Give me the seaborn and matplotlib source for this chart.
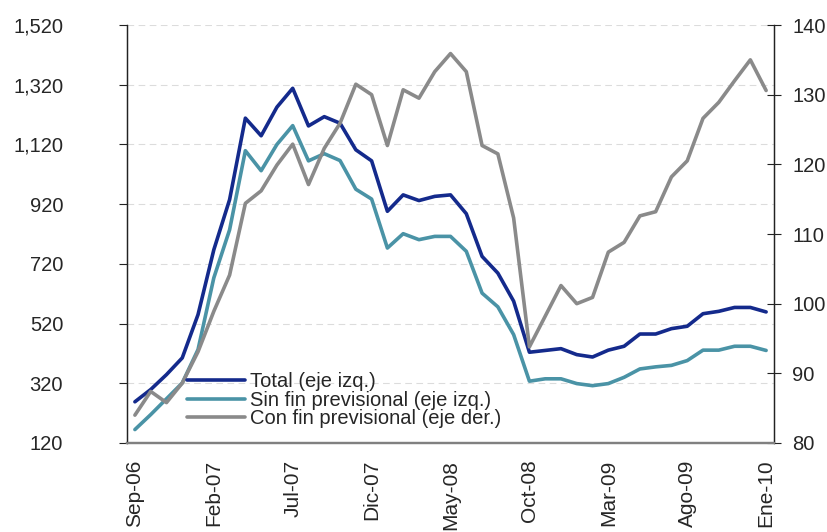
import matplotlib
matplotlib.use("Agg")
import matplotlib.pyplot as plt
import seaborn as sns
import numpy as np
import pandas as pd

# monthly, Sep-06 .. Ene-10
months = ["Sep-06", "Oct-06", "Nov-06", "Dic-06", "Ene-07", "Feb-07", "Mar-07", "Abr-07",
          "May-07", "Jun-07", "Jul-07", "Ago-07", "Sep-07", "Oct-07", "Nov-07", "Dic-07",
          "Ene-08", "Feb-08", "Mar-08", "Abr-08", "May-08", "Jun-08", "Jul-08", "Ago-08",
          "Sep-08", "Oct-08", "Nov-08", "Dic-08", "Ene-09", "Feb-09", "Mar-09", "Abr-09",
          "May-09", "Jun-09", "Jul-09", "Ago-09", "Sep-09", "Oct-09", "Nov-09", "Dic-09",
          "Ene-10"]

total = [258, 299, 349, 405, 550, 767, 935, 1208, 1149, 1245, 1308, 1182, 1213, 1191,
         1102, 1065, 896, 951, 932, 946, 951, 888, 745, 689, 595, 424, 430, 436, 416,
         408, 431, 444, 485, 485, 503, 511, 553, 561, 574, 574, 559]

sin_fin = [165, 215, 268, 321, 433, 673, 834, 1099, 1032, 1120, 1183, 1065, 1089, 1066,
           970, 937, 773, 821, 801, 812, 812, 762, 622, 576, 483, 327, 335, 335, 319,
           312, 319, 340, 368, 375, 380, 396, 431, 431, 444, 444, 430]

con_fin = [84.0, 87.4, 85.8, 88.6, 93.1, 98.9, 104.1, 114.4, 116.2, 119.9, 122.9, 117.1,
           122.3, 125.9, 131.5, 130.0, 122.7, 130.7, 129.5, 133.3, 135.9, 133.3, 122.7,
           121.5, 112.3, 93.8, 98.2, 102.6, 100.0, 100.9, 107.4, 108.8, 112.6, 113.2,
           118.2, 120.5, 126.6, 128.9, 132.0, 135.0, 130.6]

left_ticks = [120, 320, 520, 720, 920, 1120, 1320, 1520]
right_ticks = [80, 90, 100, 110, 120, 130, 140]

df = pd.DataFrame({"i": np.arange(len(months)), "total": total,
                   "sin_fin": sin_fin, "con_fin": con_fin})

sns.set_style("white")
plt.rcParams['font.family'] = ['Liberation Sans', 'DejaVu Sans']

fig = plt.figure(figsize=(8.28, 5.32), dpi=100)
ax = fig.add_axes([0.1534, 0.1673, 0.7814, 0.7857])
ax2 = ax.twinx()

c_total = "#142a8c"
c_sin = "#4a93a6"
c_con = "#8a8a8a"

sns.lineplot(data=df, x="i", y="total", ax=ax, color=c_total, lw=2.6,
             label="Total (eje izq.)", legend=False)
sns.lineplot(data=df, x="i", y="sin_fin", ax=ax, color=c_sin, lw=2.6,
             label="Sin fin previsional (eje izq.)", legend=False)
sns.lineplot(data=df, x="i", y="con_fin", ax=ax2, color=c_con, lw=2.6,
             label="Con fin previsional (eje der.)", legend=False)

fs = 14.5
ax.set_ylim(120, 1520)
ax.set_yticks(left_ticks)
ax.set_yticklabels([f"{v:,}" for v in left_ticks], fontsize=fs)
ax2.set_ylim(80, 140)
ax2.set_yticks(right_ticks)
ax2.set_yticklabels([str(v) for v in right_ticks], fontsize=fs)

ax.set_xlim(-0.5, len(months) - 0.5)
lab_idx = list(range(0, len(months), 5))
ax.set_xticks(lab_idx)
ax.set_xticklabels([months[k] for k in lab_idx], rotation=90, fontsize=15)
ax.set_xticks(np.arange(-0.5, len(months), 1.0), minor=True)
ax.tick_params(axis="x", which="major", length=0, pad=12)
ax.tick_params(axis="x", which="minor", length=4, width=0.8, direction="out", color="#222222")
ax.tick_params(axis="y", length=6, width=0.8, direction="out", color="#222222", pad=40)
ax2.tick_params(axis="y", length=10, width=0.8, direction="inout", color="#222222", pad=8)

ax.set_xlabel("")
ax.set_ylabel("")
ax2.set_ylabel("")

ax.grid(axis="y", color="#dcdcdc", linestyle=(0, (6, 4)), lw=0.8)
ax.set_axisbelow(True)

for a in (ax, ax2):
    a.spines["top"].set_visible(False)
    for s in ("left", "right"):
        a.spines[s].set_color("#222222")
        a.spines[s].set_linewidth(0.9)
    a.spines["bottom"].set_color("#808080")
    a.spines["bottom"].set_linewidth(1.6)

h1, l1 = ax.get_legend_handles_labels()
h2, l2 = ax2.get_legend_handles_labels()
ax2.legend(h1 + h2, l1 + l2, loc="lower left", bbox_to_anchor=(0.093, 0.035),
           frameon=False, fontsize=14.5, handlelength=2.85, labelspacing=-0.02,
           handletextpad=0.25, borderaxespad=0, borderpad=0)

fig.savefig("out.png", dpi=100)
